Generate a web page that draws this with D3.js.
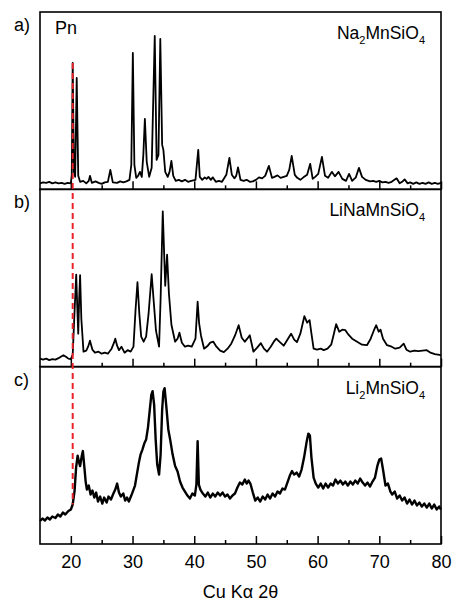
<!DOCTYPE html>
<html>
<head>
<meta charset="utf-8">
<script src="https://cdn.jsdelivr.net/npm/d3@7/dist/d3.min.js"></script>
<style>
  body { margin: 0; background: #fff; }
  svg text { font-family: Arial, "Liberation Sans", sans-serif; fill: #000; }
</style>
</head>
<body>
<svg id="xrd" width="453" height="602"></svg>
<script>
// XRD patterns, [2theta, intensity a.u.]
var na2MnSiO4 = [
  [15,6],[15.5,7],[16,6.5],[16.5,7.5],[17,6],[17.5,7],[18,6],[18.5,6.5],[19,5.5],[19.5,6.5],
  [20,6],[20.15,14.5],[20.3,126.5],[20.5,17.5],[20.7,12.5],[20.95,111.5],[21.2,13.5],[21.5,7.5],
  [22,8.5],[22.5,6],[22.9,8.5],[23.1,13.5],[23.4,6.5],[24,8],[24.5,6.5],[25,5.5],[25.5,7],[26,7.5],
  [26.4,19.5],[26.8,7],[27.5,6.5],[28,8],[28.5,7],[29,8],[29.5,9.5],[29.8,24.5],[30.05,136.5],
  [30.3,24.5],[30.6,11.5],[30.9,13.5],[31.2,17.5],[31.5,12.5],[31.75,34.5],[32,70.5],[32.3,27.5],
  [32.7,12.5],[33.1,21.5],[33.6,153.5],[33.9,29.5],[34.2,34.5],[34.5,150.5],[34.8,44.5],[35,39.5],
  [35.3,17.5],[35.7,12.5],[36,17.5],[36.3,28.5],[36.6,13.5],[37,8.5],[37.5,9.5],[38,8],[38.5,9.5],
  [39,7.5],[39.5,8.5],[40.2,9.5],[40.65,39.5],[40.9,12.5],[41.3,9.5],[41.7,12],[42,10.5],[42.3,12.5],
  [42.7,9.5],[43,12],[43.5,7.5],[44,8.5],[44.5,7.5],[45.2,14.5],[45.7,31.5],[46.1,14.5],[46.5,11],
  [46.8,13.5],[47.1,22],[47.5,9.5],[48,8.5],[48.5,9.5],[49,7.5],[49.5,8],[50,9.5],[50.5,12],[51,11],
  [51.5,13.5],[52.1,23.5],[52.6,11.5],[53,12.5],[53.5,14],[54,11.5],[54.5,12.5],[55,13.5],[55.4,19.5],
  [55.8,33.5],[56.3,14.5],[56.7,11.5],[57.2,9.5],[57.7,12],[58.3,14.5],[58.8,25.5],[59.2,10.5],
  [59.6,12.5],[60.1,15.5],[60.7,32.5],[61.2,13.5],[61.7,11.5],[62.3,17.5],[62.8,13],[63.4,17.5],
  [64,10.5],[64.6,8.5],[65.1,15.5],[65.6,8.5],[66.2,12],[66.7,21.5],[67.2,12.5],[67.8,9.5],[68.5,8],
  [69,8.5],[69.5,7.5],[70,8.5],[70.5,7],[71,7.5],[71.5,6.5],[72,7.5],[72.8,11],[73.3,6],[73.7,7.5],
  [74.1,10],[74.6,6],[75,7],[75.5,5.5],[76,7],[76.5,5.5],[77,6.5],[77.5,5.5],[78,7],[78.5,5.5],
  [79,6.5],[79.5,5.5],[80,6.5]
];

var liNaMnSiO4 = [
  [15,8],[15.5,7],[16,8],[16.5,6.5],[17,7.5],[17.5,7],[18,8.5],[18.5,10.5],[18.8,11.5],[19.2,10],
  [19.6,8],[20,7.5],[20.3,12],[20.55,48],[20.87,92],[21.05,58],[21.2,33],[21.35,68],[21.5,91.5],
  [21.7,48],[22.05,15],[22.5,16],[22.8,20],[23.1,26],[23.5,17],[23.9,14],[24.5,15],[25,13],[25.5,14],
  [26,13],[26.6,18],[27,24],[27.2,28],[27.5,21],[27.8,16.5],[28.2,20],[28.7,14],[29.2,16.5],[29.7,15],
  [30.15,20],[30.5,58],[30.8,84.5],[31.1,53],[31.4,30],[31.8,25],[32.2,30],[32.6,53],[33.1,92.5],
  [33.4,68],[33.8,36],[34.3,20],[34.55,68],[34.9,155.5],[35.15,108],[35.3,81],[35.6,112],[35.9,73],
  [36.3,42],[36.9,25],[37.3,28],[37.6,34],[38,24],[38.5,20],[39,21],[39.6,20],[40.2,28],[40.55,65],
  [40.8,43],[41.1,31],[41.6,18],[42.2,21],[42.6,24],[43.1,25],[43.6,20],[44.2,16],[44.8,14.5],
  [45.4,18],[46,23],[46.6,31],[47.2,41.5],[47.7,29],[48.2,25],[48.6,28],[49,31.5],[49.6,15],[50.2,19],
  [50.8,23.5],[51.3,18],[51.8,15],[52.4,20],[52.9,25],[53.3,28],[53.8,25],[54.5,21],[55.1,27],
  [55.7,33],[56.2,27],[56.65,24.5],[57.2,33],[57.85,50.5],[58.3,44],[58.7,46.5],[59,33],[59.35,18],
  [59.9,17],[60.5,18],[61,16.5],[61.6,18],[62.2,22],[62.6,32],[63,42.5],[63.5,35],[64,37],[64.5,36.5],
  [65,32],[65.6,28],[66.4,25],[67.2,22],[68,21.5],[68.6,28],[69.1,36],[69.5,41.5],[69.9,35],[70.2,37],
  [70.6,28],[71.25,21.5],[72,20],[72.6,18],[73.3,19],[73.95,23],[74.4,17],[75,15],[75.7,16],
  [76.3,15.5],[77,16],[77.7,16.5],[78.3,14],[79,12.5],[79.5,12],[80,11.5]
];

var li2MnSiO4 = [
  [15,23],[15.4,25.5],[15.8,23.5],[16.2,26.5],[16.6,24.5],[17,27.5],[17.5,26],[17.9,29.5],[18.3,27.5],
  [18.7,31.5],[19.1,29.5],[19.6,33],[20,34.5],[20.3,39.5],[20.6,53],[20.85,76.5],[21.1,88.5],
  [21.3,82.5],[21.5,78],[21.75,87.5],[21.95,93],[22.2,76.5],[22.4,62.5],[22.6,54.5],[22.9,58.5],
  [23.2,49.5],[23.5,53.5],[23.8,46.5],[24.1,51.5],[24.4,42.5],[24.75,47.5],[25.1,40.5],[25.4,46.5],
  [25.8,41.5],[26.1,47.5],[26.5,44.5],[26.9,50.5],[27.2,54.5],[27.5,60.5],[27.8,51.5],[28.1,47.5],
  [28.5,50.5],[28.8,43.5],[29.1,46.5],[29.4,42.5],[29.8,48.5],[30.1,53.5],[30.4,58.5],[30.7,69.5],
  [31,80.5],[31.3,89.5],[31.6,94.5],[31.9,100.5],[32.2,104.5],[32.5,116.5],[32.8,134.5],[33.05,149.5],
  [33.25,153],[33.5,139.5],[33.75,104.5],[34,79.5],[34.3,69.5],[34.55,89.5],[34.8,134.5],[35,152.5],
  [35.2,156],[35.45,139.5],[35.8,114.5],[36.1,104.5],[36.5,89.5],[36.9,78],[37.3,72.5],[37.7,62.5],
  [38.1,56.5],[38.5,52.5],[38.9,48.5],[39.3,45.5],[39.7,50.5],[40.1,48.5],[40.35,59.5],[40.55,103],
  [40.75,59.5],[41,54.5],[41.4,50.5],[41.8,47.5],[42.2,51.5],[42.6,46.5],[43,50.5],[43.4,47.5],
  [43.8,51.5],[44.2,48.5],[44.6,51.5],[45,47.5],[45.4,49.5],[45.8,45.5],[46.2,48.5],[46.6,50.5],
  [47,56.5],[47.4,61.5],[47.8,59.5],[48.2,64.5],[48.5,60.5],[48.8,63.5],[49.1,60.5],[49.5,51.5],
  [49.9,43.5],[50.3,46.5],[50.7,42.5],[51.1,47.5],[51.5,44.5],[51.9,49.5],[52.3,45.5],[52.7,50.5],
  [53.1,47.5],[53.5,52.5],[53.9,50.5],[54.3,55.5],[54.7,54.5],[55.1,61.5],[55.5,68.5],[55.85,73],
  [56.2,69.5],[56.6,71.5],[57,67.5],[57.4,74.5],[57.8,86.5],[58.2,101.5],[58.5,110.5],[58.75,108.5],
  [59,86.5],[59.35,66.5],[59.7,60.5],[60.1,56.5],[60.5,60.5],[60.9,55.5],[61.3,60.5],[61.7,56.5],
  [62.1,60.5],[62.5,58.5],[62.9,64.5],[63.3,60.5],[63.7,63.5],[64.1,59.5],[64.5,62.5],[64.9,58.5],
  [65.3,62.5],[65.7,59.5],[66.1,63.5],[66.5,60.5],[66.9,65.5],[67.3,61.5],[67.7,58.5],[68.1,61.5],
  [68.5,57.5],[68.9,62.5],[69.3,66.5],[69.7,78.5],[70,84.5],[70.3,85.5],[70.6,74.5],[71,58.5],
  [71.4,60.5],[71.8,52.5],[72.1,49.5],[72.5,52.5],[72.9,45.5],[73.3,48.5],[73.7,43.5],[74.1,46.5],
  [74.5,40.5],[74.9,44.5],[75.3,39.5],[75.7,43.5],[76.1,38.5],[76.5,41.5],[76.9,37.5],[77.3,40.5],
  [77.7,36.5],[78.1,40.5],[78.5,35.5],[78.9,39.5],[79.3,34.5],[79.7,37.5],[80,34.5]
];

var panelLabels = ['a)', 'b)', 'c)'];
var sampleNames = ['Na_2MnSiO_4', 'LiNaMnSiO_4', 'Li_2MnSiO_4'];
var series = [na2MnSiO4, liNaMnSiO4, li2MnSiO4];
var majorTicks = [20, 30, 40, 50, 60, 70, 80];
var minorTicks = [25, 35, 45, 55, 65, 75];
var pnPosition = 20.3;
var xLabel = 'Cu K\u03b1 2\u03b8';

var margin = {top: 12, right: 12, bottom: 58, left: 40};
var svg = d3.select('svg#xrd');
var width = +svg.attr('width') - margin.left - margin.right;
var height = +svg.attr('height') - margin.top - margin.bottom;

var xScale = d3.scaleLinear().domain([15, 80]).range([0, width]);
var panelScale = d3.scaleBand().domain(panelLabels).range([0, height]);
var ph = panelScale.bandwidth();
var yScale = d3.scaleLinear().domain([0, 177.5]).range([ph, 0]);

var g = svg.append('g').attr('transform', 'translate(' + margin.left + ',' + margin.top + ')');

var line = d3.line()
  .x(function(d) { return xScale(d[0]); })
  .y(function(d) { return yScale(d[1]); });

// draw each panel
panelLabels.forEach(function(label, i) {
  var py = panelScale(label);
  var panel = g.append('g').attr('transform', 'translate(0,' + py + ')');

  panel.append('path')
    .datum(series[i])
    .attr('d', line)
    .attr('fill', 'none')
    .attr('stroke', '#000')
    .attr('stroke-width', i == 2 ? 2.4 : 1.8)
    .attr('stroke-linejoin', 'round');

  // inward ticks along the bottom
  var major = d3.axisBottom(xScale).tickValues(majorTicks).tickSize(-8).tickSizeOuter(0)
    .tickPadding(11);
  if (i < 2) major.tickFormat('');
  var minor = d3.axisBottom(xScale).tickValues(minorTicks).tickSize(-4).tickSizeOuter(0).tickFormat('');

  var ax = panel.append('g').attr('transform', 'translate(0,' + ph + ')').call(major);
  panel.append('g').attr('transform', 'translate(0,' + ph + ')').call(minor)
    .select('.domain').remove();
  ax.select('.domain').remove();
  panel.selectAll('.tick line').attr('stroke-width', 1.5);
  ax.selectAll('.tick text').attr('font-size', 18).attr('font-family', 'Arial, "Liberation Sans", sans-serif');

  panel.append('rect')
    .attr('width', width).attr('height', ph)
    .attr('fill', 'none').attr('stroke', '#000').attr('stroke-width', 1.6);

  svg.append('text')
    .attr('x', 14).attr('y', margin.top + py + 19)
    .attr('font-size', 18)
    .text(label);

  // sample name with subscripts
  var name = panel.append('text')
    .attr('x', width - 16).attr('y', 27)
    .attr('text-anchor', 'end')
    .attr('font-size', 17.5);
  sampleNames[i].split(/_(\d)/).forEach(function(part, k) {
    if (!part) return;
    if (k % 2 == 1) {
      name.append('tspan').attr('font-size', 11).attr('dy', 5).text(part);
    } else {
      name.append('tspan').attr('dy', k > 0 ? -5 : 0).text(part);
    }
  });
});

g.append('text')
  .attr('x', 15).attr('y', 22)
  .attr('font-size', 18)
  .text('Pn');

// dashed guide through the Pn reflection
var pnTop = na2MnSiO4.find(function(d) { return d[0] == pnPosition; });
var pnBottom = li2MnSiO4.find(function(d) { return d[0] == pnPosition; });
g.append('line')
  .attr('x1', xScale(pnPosition)).attr('x2', xScale(pnPosition))
  .attr('y1', panelScale('a)') + yScale(pnTop[1]))
  .attr('y2', panelScale('c)') + yScale(pnBottom[1]))
  .attr('stroke', '#e8232b')
  .attr('stroke-width', 2)
  .attr('stroke-dasharray', '6,4');

g.append('text')
  .attr('x', width / 2).attr('y', height + 54)
  .attr('text-anchor', 'middle')
  .attr('font-size', 18)
  .text(xLabel);
</script>
</body>
</html>
